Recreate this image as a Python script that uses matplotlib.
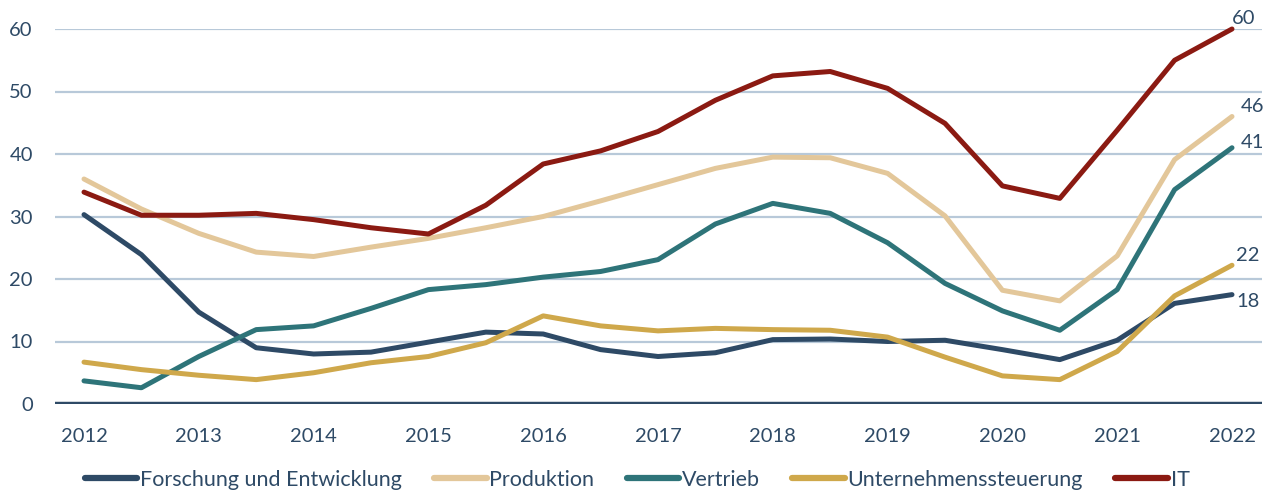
import matplotlib
matplotlib.use("Agg")
import matplotlib.pyplot as plt
import numpy as np

plt.rcParams['font.family'] = ['Lato', 'DejaVu Sans']

years = [2012 + 0.5 * i for i in range(21)]
tick_years = list(range(2012, 2023))

forschung = [30.3, 23.9, 14.7, 9.0, 8.0, 8.3, 9.9, 11.5, 11.2, 8.7, 7.6, 8.2, 10.3, 10.4, 10.0, 10.2, 8.7, 7.1, 10.2, 16.1, 17.5]
produktion = [36.0, 31.2, 27.3, 24.3, 23.6, 25.1, 26.5, 28.2, 30.0, 32.5, 35.1, 37.7, 39.5, 39.4, 36.9, 30.1, 18.2, 16.5, 23.7, 39.1, 46.0]
vertrieb = [3.7, 2.6, 7.6, 11.9, 12.5, 15.3, 18.3, 19.1, 20.3, 21.2, 23.1, 28.8, 32.1, 30.5, 25.8, 19.3, 14.9, 11.8, 18.3, 34.3, 41.0]
steuerung = [6.7, 5.5, 4.6, 3.9, 5.0, 6.6, 7.6, 9.8, 14.1, 12.5, 11.7, 12.1, 11.9, 11.8, 10.7, 7.5, 4.5, 3.9, 8.4, 17.3, 22.2]
it = [33.9, 30.2, 30.2, 30.5, 29.5, 28.2, 27.2, 31.8, 38.4, 40.5, 43.6, 48.6, 52.5, 53.2, 50.5, 44.9, 34.9, 32.9, 43.8, 55.0, 60.0]

names = ["Forschung und Entwicklung", "Produktion", "Vertrieb", "Unternehmenssteuerung", "IT"]
series = [forschung, produktion, vertrieb, steuerung, it]
colors = ["#2E4A66", "#E3C79A", "#2E7479", "#CFA84B", "#8B1A12"]
end_labels = ["18", "46", "41", "22", "60"]
# label offsets in pixels (dx, dy)
offsets = [(4, -7), (9, 10), (9, 5), (4, 10), (0, 11)]

text_color = "#2E4A66"
grid_color = "#B8C9D9"

fig = plt.figure(figsize=(12.74, 4.92), dpi=100)
ax = fig.add_axes([55/1274, 88/492, 1207/1274, 375/492])

for y in [10, 20, 30, 40, 50, 60]:
    ax.axhline(y, color=grid_color, lw=1.6, zorder=1)
ax.axhline(0, color=text_color, lw=3.2, zorder=2)

for name, vals, col in zip(names, series, colors):
    ax.plot(years, vals, color=col, lw=3.6, label=name, zorder=3,
            solid_capstyle='round', solid_joinstyle='round', clip_on=False)

for vals, lab, (dx, dy) in zip(series, end_labels, offsets):
    ax.annotate(lab, xy=(years[-1], vals[-1]), xytext=(dx * 0.72, dy * 0.72),
                textcoords='offset points', ha='left', va='center',
                fontsize=14.5, color=text_color)

ax.set_xlim(2012 - 29/114.8, 2022 + 30/114.8)
ax.set_ylim(0, 60)
ax.set_yticks([0, 10, 20, 30, 40, 50, 60])
ax.set_xticks(tick_years)
ax.set_xticklabels([str(y) for y in tick_years])
ax.tick_params(axis='both', length=0, labelsize=14.5, labelcolor=text_color)
ax.tick_params(axis='y', pad=16)
ax.tick_params(axis='x', pad=17)
for s in ax.spines.values():
    s.set_visible(False)

leg = fig.legend(loc='center', bbox_to_anchor=(0.5, 12/492), ncol=5,
                 frameon=False, fontsize=15.5, handlelength=2.45, handletextpad=0.12,
                 columnspacing=1.5, labelcolor=text_color)
for h in leg.get_lines():
    h.set_linewidth(4.5)

fig.savefig("out.png", dpi=100)
